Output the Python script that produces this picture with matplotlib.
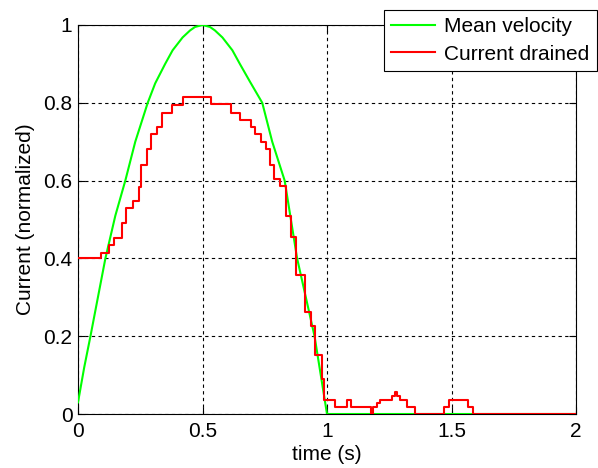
import matplotlib.pyplot as plt

# mean velocity
t_vel = [0, 0.025, 0.05, 0.08, 0.11, 0.15, 0.19, 0.23, 0.28, 0.31, 0.35, 0.38,
         0.42, 0.45, 0.47, 0.5, 0.53, 0.55, 0.58, 0.62, 0.65, 0.69, 0.74,
         0.78, 0.83, 0.855, 0.88, 0.915, 0.95, 0.975, 1.0, 2.0]
vel = [0.03, 0.12, 0.2, 0.3, 0.4, 0.51, 0.6, 0.7, 0.8, 0.85, 0.9, 0.935,
       0.968, 0.986, 0.995, 1.0, 0.995, 0.986, 0.968, 0.935, 0.9, 0.855, 0.8,
       0.7, 0.6, 0.5, 0.4, 0.3, 0.2, 0.1, 0.0, 0.0]

# current drained (step signal)
t_cur = [0, 0.093, 0.126, 0.145, 0.176, 0.193, 0.220, 0.243, 0.252, 0.279,
         0.295, 0.319, 0.338, 0.377, 0.420, 0.534, 0.614, 0.652, 0.696,
         0.712, 0.736, 0.757, 0.773, 0.789, 0.810, 0.836, 0.856, 0.876,
         0.911, 0.934, 0.951, 0.978, 0.987, 1.034, 1.081, 1.095, 1.175,
         1.183, 1.199, 1.211, 1.262, 1.272, 1.282, 1.293, 1.320, 1.352,
         1.469, 1.489, 1.565, 1.588, 2.0]
cur = [0.40, 0.414, 0.435, 0.453, 0.491, 0.529, 0.547, 0.583, 0.641, 0.680,
       0.721, 0.738, 0.775, 0.794, 0.815, 0.796, 0.775, 0.755, 0.738,
       0.719, 0.699, 0.680, 0.641, 0.605, 0.585, 0.51, 0.454, 0.357,
       0.263, 0.225, 0.151, 0.089, 0.035, 0.019, 0.035, 0.019, 0.0,
       0.019, 0.027, 0.035, 0.047, 0.057, 0.047, 0.035, 0.019, 0.0,
       0.019, 0.035, 0.019, 0.0, 0.0]

xticks = [0, 0.5, 1, 1.5, 2]
xticklabels = ['0', '0.5', '1', '1.5', '2']
yticks = [0, 0.2, 0.4, 0.6, 0.8, 1]
yticklabels = ['0', '0.2', '0.4', '0.6', '0.8', '1']

plt.rcParams['font.family'] = ['Liberation Sans', 'DejaVu Sans']
plt.rcParams['font.size'] = 15

fig = plt.figure(figsize=(5.98, 4.68), dpi=100)
ax = fig.add_axes([78 / 598, 1 - 414 / 468, (576 - 78) / 598, (414 - 25) / 468])

ax.plot(t_vel, vel, color=(0, 1, 0), lw=1.5, label='Mean velocity', zorder=3)
ax.plot(t_cur, cur, color=(1, 0, 0), lw=1.5, drawstyle='steps-post',
        label='Current drained', zorder=4)

ax.set_xlim(0, 2)
ax.set_ylim(0, 1)
ax.set_xticks(xticks)
ax.set_xticklabels(xticklabels)
ax.set_yticks(yticks)
ax.set_yticklabels(yticklabels)
ax.tick_params(direction='in', top=True, right=True, length=5, width=0.8)
ax.tick_params(axis='x', pad=6)
ax.tick_params(axis='y', pad=4)
ax.grid(True, color='black', linestyle=(0, (3, 3)), linewidth=0.8)
for s in ax.spines.values():
    s.set_linewidth(0.8)

ax.set_xlabel('time (s)', labelpad=3)
ax.set_ylabel('Current (normalized)', labelpad=6)

leg = ax.legend(loc='upper right', bbox_to_anchor=(597 / 598, 1 - 10 / 468),
                bbox_transform=fig.transFigure, borderaxespad=0,
                fancybox=False, framealpha=1, handlelength=2.1,
                handletextpad=0.45, borderpad=0.35, labelspacing=0.4)
leg.get_frame().set_edgecolor('black')
leg.get_frame().set_linewidth(0.8)
leg.set_zorder(10)

fig.savefig('out.png', dpi=100)
